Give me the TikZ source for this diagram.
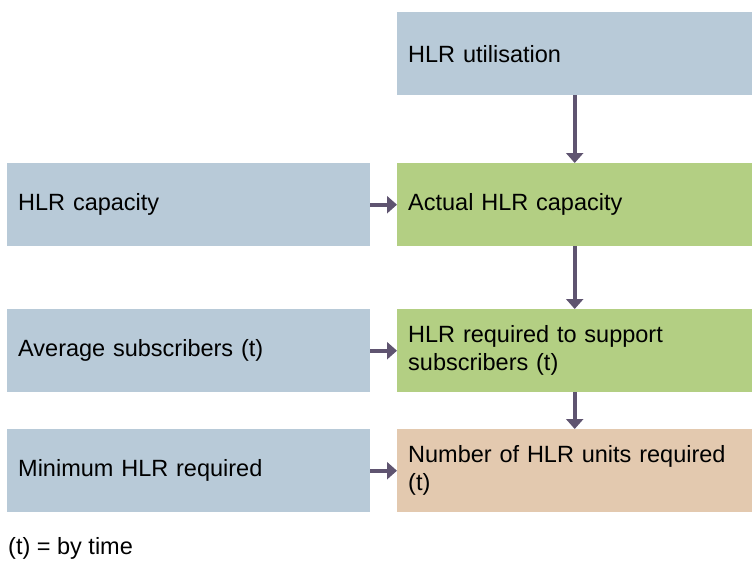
\documentclass[tikz,border=0pt]{standalone}
\usepackage{fontspec}
\setmainfont{Liberation Sans}
\usepackage{xcolor}
\usetikzlibrary{arrows.meta,positioning}
\definecolor{inputblue}{HTML}{B8CAD8}
\definecolor{calcgreen}{HTML}{B3CF83}
\definecolor{resulttan}{HTML}{E3C9AF}
\definecolor{arrowgray}{HTML}{5F5470}

\begin{document}
\begin{tikzpicture}[x=1pt,y=-1pt,>={Triangle[length=10pt,width=17pt]},every node/.style={font=\fontsize{23.5}{28}\selectfont},
    box/.style={anchor=north west,minimum height=83pt,inner xsep=11pt,inner ysep=0pt,align=left},
    inbox/.style={box,fill=inputblue,minimum width=363pt,text width=341pt},
    calcbox/.style={box,minimum width=355pt,text width=333pt}]
        \useasboundingbox (0,0) rectangle (752,563);
        \node[calcbox,fill=inputblue] (util) at (397,12) {HLR utilisation};
        \node[inbox] (cap) at (7,163) {HLR capacity};
        \node[calcbox,fill=calcgreen] (actual) at (397,163) {Actual HLR capacity};
        \node[inbox] (subs) at (7,309) {Average subscribers (t)};
        \node[calcbox,fill=calcgreen] (support) at (397,309) {HLR required to support\\subscribers (t)};
        \node[inbox] (minimum) at (7,429) {Minimum HLR required};
        \node[calcbox,fill=resulttan] (units) at (397,429) {Number of HLR units required\\(t)};
        \node[anchor=west,inner sep=0pt] (note) at (8,548) {(t) = by time};
        \draw[->,line width=4pt,arrowgray] (util) -- (actual);
        \draw[->,line width=4pt,arrowgray] (cap) -- (actual);
        \draw[->,line width=4pt,arrowgray] (actual) -- (support);
        \draw[->,line width=4pt,arrowgray] (subs) -- (support);
        \draw[->,line width=4pt,arrowgray] (support) -- (units);
        \draw[->,line width=4pt,arrowgray] (minimum) -- (units);
      \end{tikzpicture}
\end{document}
